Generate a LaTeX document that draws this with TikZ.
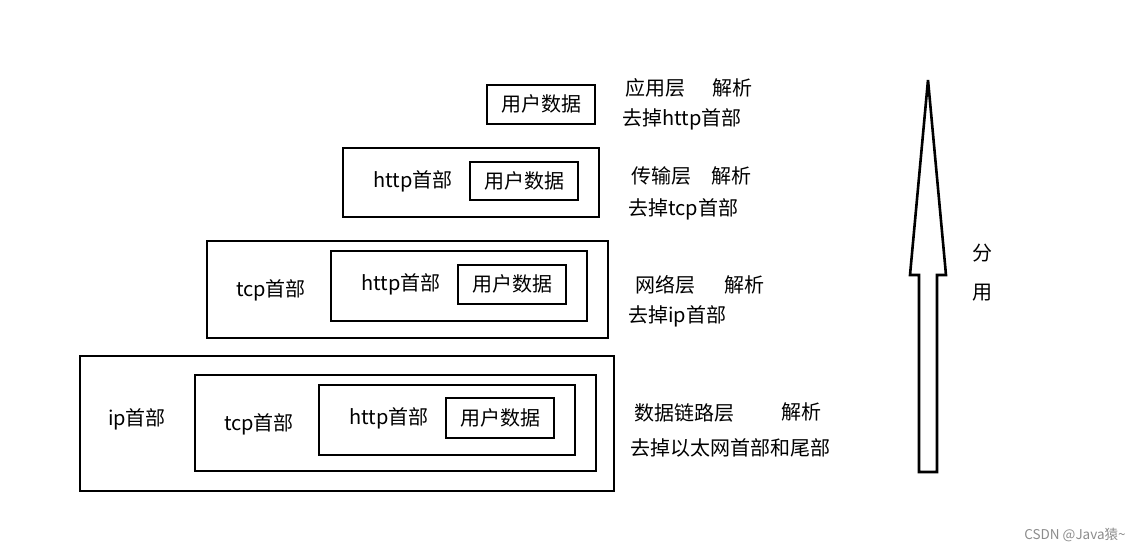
\documentclass[tikz,border=0pt]{standalone}
\usepackage{fontspec}
\setmainfont{Noto Sans CJK SC}
\begin{document}
\begin{tikzpicture}[x=1pt,y=-1pt,
  box/.style={draw=black,line width=2.6pt,inner sep=0pt},
  lbl/.style={font=\fontsize{20}{22}\selectfont,inner sep=0pt},
  side/.style={lbl,anchor=west}]
\useasboundingbox (0,0) rectangle (1140,549);
% Row 1
\node[box,minimum width=108pt,minimum height=39pt] (r1d) at (541,104.5) {};
\node[lbl] (r1dt) at (541,104) {用户数据};
\node[side] (r1a) at (625,88) {应用层};
\node[side] (r1b) at (712,88) {解析};
\node[side] (r1c) at (622,119) {去掉http首部};
% Row 2
\node[box,minimum width=256pt,minimum height=69pt] (r2o) at (471,182.5) {};
\node[box,minimum width=108pt,minimum height=38pt] (r2d) at (524,181) {};
\node[lbl] (r2h) at (413,181) {http首部};
\node[lbl] (r2dt) at (524,181) {用户数据};
\node[side] (r2a) at (631,176) {传输层};
\node[side] (r2b) at (711,176) {解析};
\node[side] (r2c) at (628,209) {去掉tcp首部};
% Row 3
\node[box,minimum width=401pt,minimum height=97pt] (r3o) at (407.5,289.5) {};
\node[box,minimum width=256pt,minimum height=70pt] (r3m) at (459,286) {};
\node[box,minimum width=108pt,minimum height=39pt] (r3d) at (512,284.5) {};
\node[lbl] (r3t) at (271,290) {tcp首部};
\node[lbl] (r3h) at (401,284) {http首部};
\node[lbl] (r3dt) at (512,284) {用户数据};
\node[side] (r3a) at (635,285) {网络层};
\node[side] (r3b) at (724,285) {解析};
\node[side] (r3c) at (628,316) {去掉ip首部};
% Row 4
\node[box,minimum width=534pt,minimum height=135pt] (r4o) at (347,423.5) {};
\node[box,minimum width=401pt,minimum height=96pt] (r4t) at (395.5,423) {};
\node[box,minimum width=256pt,minimum height=70pt] (r4m) at (447,420) {};
\node[box,minimum width=108pt,minimum height=40pt] (r4d) at (500,418) {};
\node[lbl] (r4i) at (137,419) {ip首部};
\node[lbl] (r4tt) at (259,424) {tcp首部};
\node[lbl] (r4h) at (389,418) {http首部};
\node[lbl] (r4dt) at (500,418) {用户数据};
\node[side] (r4a) at (634,413) {数据链路层};
\node[side] (r4b) at (781,412) {解析};
\node[side] (r4c) at (630,448) {去掉以太网首部和尾部};
% Arrow
\draw[line width=2.6pt,line join=miter] (919,472) -- (919,275) -- (910,275) -- (928,80) -- (946,275) -- (937,275) -- (937,472) -- cycle;
\node[lbl] (f1) at (982,253) {分};
\node[lbl] (f2) at (982,293) {用};
% Watermark
\node[font=\fontsize{13.5}{14}\selectfont,text=black!45,inner sep=0pt] (wm) at (1075,535) {CSDN @Java猿\textasciitilde};
\end{tikzpicture}
\end{document}
